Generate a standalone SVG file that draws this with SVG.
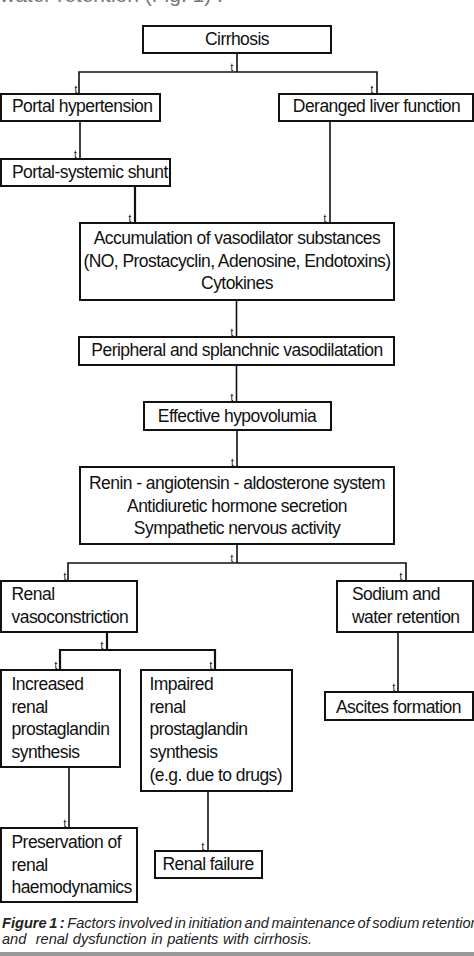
<svg xmlns="http://www.w3.org/2000/svg" width="474" height="956" viewBox="0 0 474 956">
<style>
.box{fill:#fff;stroke:#111;stroke-width:2}
.ln{fill:none;stroke:#111;stroke-width:1.6}
.thk{stroke-width:2.2}
.t{font-family:"Liberation Sans",Arial,sans-serif;font-size:17.5px;letter-spacing:-0.55px;fill:#111}
.c{text-anchor:middle}
.m{font-family:"Liberation Sans",Arial,sans-serif;font-size:10px;fill:#111;text-anchor:middle}
.cap{font-family:"Liberation Sans",Arial,sans-serif;font-size:14.6px;font-style:italic;fill:#222}
</style>
<rect width="474" height="956" fill="#fff"/>
<text x="0" y="2" font-family="'Liberation Sans',Arial,sans-serif" font-size="21" fill="#777">water retention (Fig. 1) .</text>

<g id="connectors">
<path class="ln" d="M237 53V72M79 94V72H377V94"/>
<path class="ln" d="M80 121V159"/>
<path class="ln thk" d="M135 186V223"/>
<path class="ln" d="M330 121V223"/>
<path class="ln" d="M236.5 300V337"/>
<path class="ln" d="M236.5 365V402"/>
<path class="ln" d="M237 430V467"/>
<path class="ln" d="M237 544V563M68 581V563H406V581"/>
<path class="ln thk" d="M107 632V650M60 670V650H215V670"/>
<path class="ln" d="M398 632V692"/>
<path class="ln" d="M69 767V828"/>
<path class="ln" d="M208 791V851"/>
<g id="marks">
<text class="m" x="232" y="71">t</text>
<text class="m" x="76" y="93">t</text>
<text class="m" x="372" y="93">t</text>
<text class="m" x="75.5" y="158">t</text>
<text class="m" x="130" y="222">t</text>
<text class="m" x="325" y="222">t</text>
<text class="m" x="232" y="336">t</text>
<text class="m" x="232" y="401">t</text>
<text class="m" x="232.5" y="466">t</text>
<text class="m" x="232" y="562">t</text>
<text class="m" x="65" y="580">t</text>
<text class="m" x="401" y="580">t</text>
<text class="m" x="102" y="649">t</text>
<text class="m" x="56" y="669">t</text>
<text class="m" x="211" y="669">t</text>
<text class="m" x="394" y="691">t</text>
<text class="m" x="65" y="827">t</text>
<text class="m" x="203" y="850">t</text>
</g>
</g>

<g id="cirrhosis"><rect class="box" x="143" y="26" width="188" height="27"/><text class="t c" x="237" y="45">Cirrhosis</text></g>
<g id="portal-hypertension"><rect class="box" x="1" y="94" width="159" height="27"/><text class="t" x="12" y="112">Portal hypertension</text></g>
<g id="deranged"><rect class="box" x="279" y="94" width="194" height="27"/><text class="t c" x="376.5" y="112">Deranged liver function</text></g>
<g id="shunt"><rect class="box" x="1" y="159" width="169" height="27"/><text class="t" x="12" y="177.5">Portal-systemic shunt</text></g>
<g id="accumulation"><rect class="box" x="80" y="223" width="314" height="77"/>
<text class="t c" x="237" y="244">Accumulation of vasodilator substances</text>
<text class="t c" x="237" y="266.5">(NO, Prostacyclin, Adenosine, Endotoxins)</text>
<text class="t c" x="237" y="289">Cytokines</text></g>
<g id="peripheral"><rect class="box" x="79" y="337" width="315" height="28"/><text class="t c" x="237" y="356">Peripheral and splanchnic vasodilatation</text></g>
<g id="effective"><rect class="box" x="144" y="402" width="187" height="28"/><text class="t c" x="237" y="421.5">Effective hypovolumia</text></g>
<g id="renin"><rect class="box" x="80" y="467" width="314" height="77"/>
<text class="t c" x="237" y="488.5">Renin - angiotensin - aldosterone system</text>
<text class="t c" x="237" y="511.5">Antidiuretic hormone secretion</text>
<text class="t c" x="237" y="534">Sympathetic nervous activity</text></g>
<g id="renal-vaso"><rect class="box" x="1" y="581" width="136" height="51"/>
<text class="t" x="11.5" y="600">Renal</text><text class="t" x="11.5" y="623">vasoconstriction</text></g>
<g id="sodium"><rect class="box" x="337" y="581" width="136" height="51"/>
<text class="t" x="352" y="600">Sodium and</text><text class="t" x="352" y="623">water retention</text></g>
<g id="increased"><rect class="box" x="1" y="670" width="119" height="97"/>
<text class="t" x="11.5" y="690">Increased</text><text class="t" x="11.5" y="712.7">renal</text><text class="t" x="11.5" y="735.3">prostaglandin</text><text class="t" x="11.5" y="758">synthesis</text></g>
<g id="impaired"><rect class="box" x="141" y="670" width="151" height="121"/>
<text class="t" x="149.5" y="690">Impaired</text><text class="t" x="149.5" y="712.7">renal</text><text class="t" x="149.5" y="735.3">prostaglandin</text><text class="t" x="149.5" y="758">synthesis</text><text class="t" x="149.5" y="780.5">(e.g. due to drugs)</text></g>
<g id="ascites"><rect class="box" x="325" y="692" width="148" height="28"/><text class="t" x="336" y="712.5">Ascites formation</text></g>
<g id="preservation"><rect class="box" x="1" y="828" width="136" height="74"/>
<text class="t" x="11.5" y="848">Preservation of</text><text class="t" x="11.5" y="870.5">renal</text><text class="t" x="11.5" y="892.5">haemodynamics</text></g>
<g id="renal-failure"><rect class="box" x="155" y="851" width="107" height="27"/><text class="t" x="162.5" y="869.5">Renal failure</text></g>

<text class="cap" x="2" y="927.5" word-spacing="-1.5"><tspan font-weight="bold">Figure 1 :</tspan> Factors involved in initiation and maintenance of sodium retention</text>
<text class="cap" x="2" y="944" xml:space="preserve" word-spacing="0.6">and  renal dysfunction in patients with cirrhosis.</text>
<rect x="0" y="952" width="474" height="4" fill="#999"/>
</svg>
